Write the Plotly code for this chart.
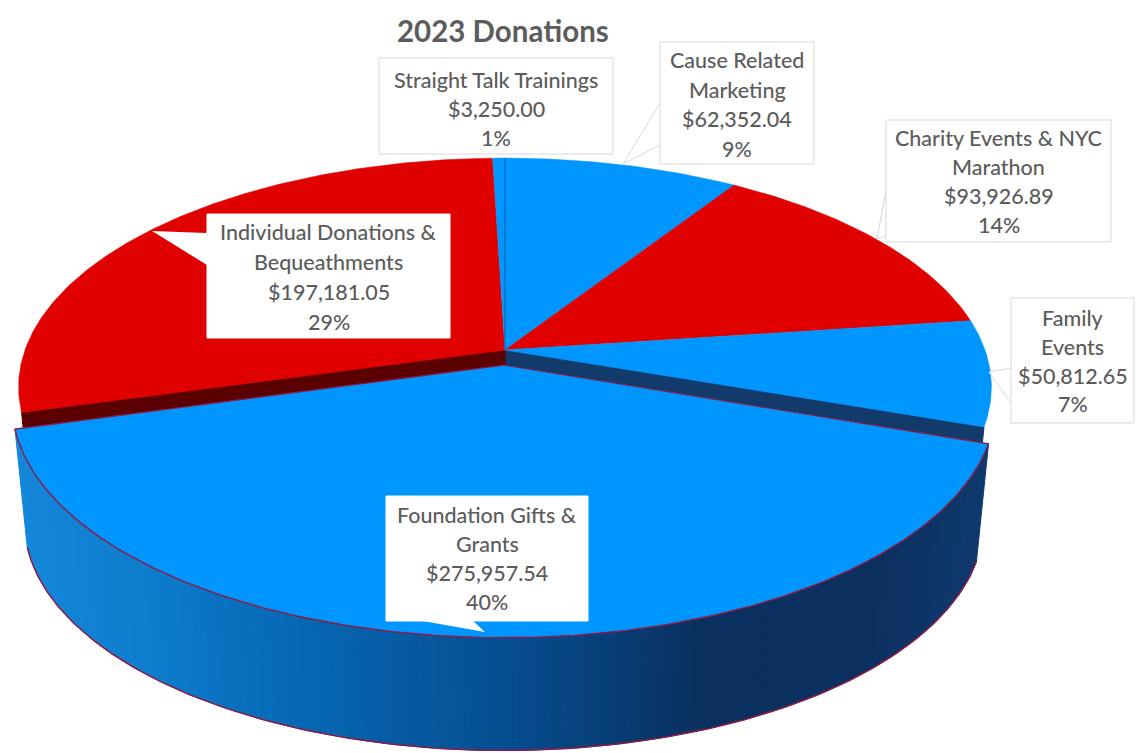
import math
import plotly.graph_objects as go

# ---- data ----
title = "2023 Donations"
categories = ["Cause Related Marketing", "Charity Events & NYC Marathon", "Family Events",
              "Foundation Gifts & Grants", "Individual Donations & Bequeathments",
              "Straight Talk Trainings"]
name_lines = [["Cause Related", "Marketing"], ["Charity Events & NYC", "Marathon"], ["Family", "Events"],
              ["Foundation Gifts &", "Grants"], ["Individual Donations &", "Bequeathments"],
              ["Straight Talk Trainings"]]
values = [62352.04, 93926.89, 50812.65, 275957.54, 197181.05, 3250.00]
percents = ["9%", "14%", "7%", "40%", "29%", "1%"]
slice_colors = ["#0096ff", "#e00000", "#0096ff", "#0096ff", "#e00000", "#0096ff"]
wall_colors = ["#123a6b", "#5a0000", "#123a6b", "#123a6b", "#5a0000", "#123a6b"]

# ---- view geometry of the tilted pie ----
W, H = 1142, 753
CX, CY = 505, 350
A, B, K = 480, 223, 0.162
BOTTOM_SCALE, BOTTOM_DROP = 0.975, 120
EXPLODE = 0.067
ROTATE = 0.0
RIM = "#8a1c48"
TEXT = "#5c5c5c"
FONT = "Lato"
side_stops = [(14, "#1488dc"), (150, "#0d7ccc"), (300, "#0668b4"), (500, "#064f92"),
              (700, "#0a3060"), (880, "#0c3060"), (988, "#103a6e")]

# label box per category: left, top, right, bottom, y of each text line
boxes = [(660, 42, 814, 164, [60, 90, 119, 149]),
         (886, 120, 1111, 242, [138, 167, 196, 225]),
         (1011, 298, 1134, 423, [318, 347, 376, 404]),
         (386, 496, 588, 621, [515, 544, 573, 602]),
         (207, 214, 450, 338, [232, 262, 292, 322]),
         (379, 58, 613, 154, [80, 109, 138])]
# callout pointers per category (polygon through box edge and tip)
pointers = [[(660, 103), (623, 164), (660, 145)],
            [(886, 190), (877, 239), (886, 236)],
            [(1011, 368), (989, 372), (1011, 403)],
            [(417, 620), (485, 632), (472, 620)],
            [(207, 233), (152, 231), (207, 265)],
            None]


def project(x, y, bottom=False):
    d = 1 + K * y
    u, v = A * x / d, -B * y / d
    if bottom:
        return CX + BOTTOM_SCALE * u, CY + BOTTOM_DROP + BOTTOM_SCALE * v
    return CX + u, CY + v


def rim_point(deg, off=(0, 0), bottom=False):
    t = math.radians(deg + ROTATE)
    return project(math.sin(t) + off[0], math.cos(t) + off[1], bottom)


def arc(a0, a1, off=(0, 0), bottom=False, n=None):
    n = n or max(2, int(abs(a1 - a0) * 1.5))
    return [rim_point(a0 + (a1 - a0) * i / n, off, bottom) for i in range(n + 1)]


def poly(points, fill, line=None, width=1):
    xs, ys = zip(*points)
    return go.Scatter(x=list(xs) + [xs[0]], y=list(ys) + [ys[0]], mode="lines", fill="toself",
                      fillcolor=fill, line=dict(color=line or fill, width=width),
                      hoverinfo="skip", showlegend=False)


def side_color(u):
    def rgb(h):
        return [int(h[i:i + 2], 16) for i in (1, 3, 5)]
    for (u0, c0), (u1, c1) in zip(side_stops, side_stops[1:]):
        if u <= u1:
            f = max(0, (u - u0) / (u1 - u0))
            a, b = rgb(c0), rgb(c1)
            return "rgb(%d,%d,%d)" % tuple(a[i] + (b[i] - a[i]) * f for i in range(3))
    return side_stops[-1][1]


total = sum(values)
edges = [0.0]
for v in values:
    edges.append(edges[-1] + 360 * v / total)

fig = go.Figure()
EXPLODED = 3

# flat walls of the neighbours, seen through the gap left by the pulled-out slice
a0, a1 = edges[EXPLODED], edges[EXPLODED + 1]
for idx, ang in ((EXPLODED - 1, a0), (EXPLODED + 1, a1)):
    fig.add_trace(poly([project(0, 0), rim_point(ang), rim_point(ang, bottom=True),
                        project(0, 0, True)], wall_colors[idx]))

# top faces of the slices that stay in place
for i in range(len(values)):
    if i != EXPLODED:
        pts = [project(0, 0)] + arc(edges[i], edges[i + 1])
        fig.add_trace(poly(pts, slice_colors[i], width=0.5))

# thin darker divider between the two neighbouring blue slices
fig.add_trace(go.Scatter(x=[project(0, 0)[0], rim_point(0)[0]], y=[project(0, 0)[1], rim_point(0)[1]],
                         mode="lines", line=dict(color="#0a6fc4", width=1.5),
                         hoverinfo="skip", showlegend=False))

# pulled-out slice: gradient side, then rim, then top face
mid = math.radians((a0 + a1) / 2 + ROTATE)
off = (EXPLODE * math.sin(mid), EXPLODE * math.cos(mid))
STEPS = 90
for s in range(STEPS):
    b0 = a0 + (a1 - a0) * s / STEPS
    b1 = a0 + (a1 - a0) * (s + 1) / STEPS
    quad = [rim_point(b0, off), rim_point(b1, off), rim_point(b1, off, True), rim_point(b0, off, True)]
    fig.add_trace(poly(quad, side_color((quad[0][0] + quad[1][0]) / 2), width=1))

top_arc = arc(a0, a1, off)
low_arc = arc(a0, a1, off, bottom=True)
for pts in (top_arc, low_arc):
    xs, ys = zip(*pts)
    fig.add_trace(go.Scatter(x=xs, y=ys, mode="lines", line=dict(color=RIM, width=1.5),
                             hoverinfo="skip", showlegend=False))
fig.add_trace(poly([project(*off)] + top_arc, slice_colors[EXPLODED], line=RIM, width=1.2))

# label boxes, pointers and text
shapes, notes = [], []
for i, box in enumerate(boxes):
    l, t, r, b, line_y = box
    inner = i in (EXPLODED, EXPLODED + 1)
    edge = "white" if inner else "#d9d9d9"
    if pointers[i] and not inner:
        path = "M " + " L ".join("%g %g" % p for p in pointers[i])
        shapes.append(dict(type="path", path=path, fillcolor="white", line=dict(color=edge, width=1),
                           xref="x", yref="y", layer="above"))
    shapes.append(dict(type="rect", x0=l, x1=r, y0=t, y1=b, fillcolor="white",
                       line=dict(color=edge, width=1), xref="x", yref="y", layer="above"))
    if pointers[i] and inner:
        path = "M " + " L ".join("%g %g" % p for p in pointers[i]) + " Z"
        shapes.append(dict(type="path", path=path, fillcolor="white", line=dict(color="white", width=0),
                           xref="x", yref="y", layer="above"))
    lines = name_lines[i] + ["${:,.2f}".format(values[i]), percents[i]]
    for text, y in zip(lines, line_y):
        notes.append(dict(x=(l + r) / 2, y=y, text=text, showarrow=False, xref="x", yref="y",
                          xanchor="center", yanchor="middle",
                          font=dict(family=FONT, size=21.5, color=TEXT, weight=500)))
notes.append(dict(x=503, y=30, text=title, showarrow=False, xref="x", yref="y",
                  font=dict(family=FONT, size=29.5, color=TEXT, weight=700)))

fig.update_layout(width=W, height=H, margin=dict(l=0, r=0, t=0, b=0), paper_bgcolor="white",
                  plot_bgcolor="white", showlegend=False, shapes=shapes, annotations=notes,
                  xaxis=dict(range=[0, W], visible=False, fixedrange=True),
                  yaxis=dict(range=[H, 0], visible=False, fixedrange=True))
fig.write_html("out.html", config=dict(displayModeBar=False),
               post_script="document.body.style.margin='0';document.documentElement.style.overflow='hidden';")
